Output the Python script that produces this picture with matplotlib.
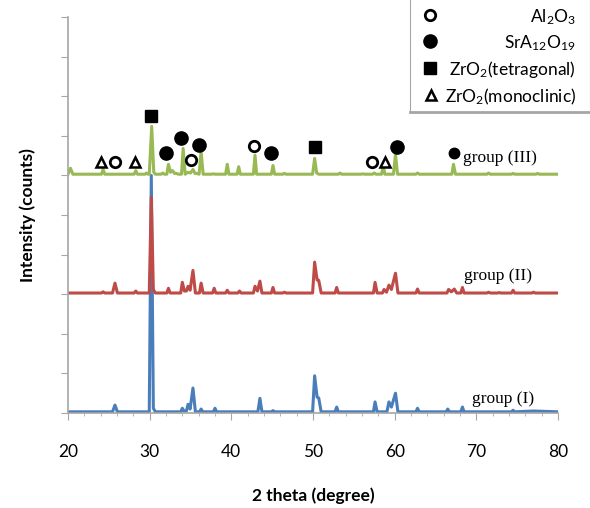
#XRD patterns of the three groups, stacked, with phase markers

import matplotlib.pyplot as plt
from matplotlib.ticker import MultipleLocator

# 2theta (deg) and relative intensity, peak feet and tops
g1_x = [20.0, 25.45, 25.75, 26.05, 29.95, 30.2, 30.45, 30.7, 33.8, 34.0, 34.2, 34.5,
        34.7, 34.95, 35.3, 35.6, 36.1, 36.3, 36.5, 37.8, 38.0, 38.2, 43.25, 43.5,
        43.75, 44.9, 45.1, 45.3, 49.95, 50.2, 50.5, 50.7, 51.0, 52.7, 52.9, 53.1,
        57.4, 57.6, 57.85, 59.05, 59.3, 59.6, 60.1, 60.4, 62.6, 62.8, 63.0, 66.3,
        66.5, 66.7, 68.1, 68.3, 68.5, 74.3, 74.5, 74.7, 77.0, 80.0]
g1_y = [0.03, 0.03, 0.20, 0.03, 0.03, 6.00, 0.12, 0.03, 0.03, 0.12, 0.05, 0.05,
        0.22, 0.10, 0.63, 0.03, 0.03, 0.10, 0.03, 0.03, 0.12, 0.03, 0.03, 0.37,
        0.03, 0.03, 0.06, 0.03, 0.03, 0.94, 0.40, 0.38, 0.03, 0.03, 0.15, 0.03,
        0.03, 0.28, 0.03, 0.03, 0.28, 0.15, 0.50, 0.03, 0.03, 0.12, 0.03, 0.03,
        0.10, 0.03, 0.03, 0.15, 0.03, 0.03, 0.07, 0.03, 0.05, 0.03]

g2_x = [20.0, 24.1, 24.3, 24.5, 25.45, 25.75, 26.05, 28.1, 28.3, 28.5, 29.95, 30.2,
        30.45, 30.7, 32.1, 32.3, 32.5, 33.8, 34.0, 34.25, 34.5, 34.7, 34.95, 35.3,
        35.6, 36.1, 36.3, 36.55, 37.7, 37.9, 38.1, 39.3, 39.5, 39.7, 40.8, 41.0,
        41.2, 42.7, 42.9, 43.2, 43.5, 43.75, 44.9, 45.1, 45.3, 46.3, 46.5, 46.7,
        49.95, 50.2, 50.5, 50.7, 51.0, 52.7, 52.9, 53.1, 57.4, 57.6, 57.85, 58.5,
        58.7, 59.0, 59.3, 59.6, 60.1, 60.4, 62.6, 62.8, 63.0, 66.4, 66.6, 66.95,
        67.3, 67.6, 68.1, 68.3, 68.5, 71.3, 71.5, 71.7, 72.6, 72.8, 73.0, 74.3,
        74.5, 74.7, 76.8, 77.0, 77.2, 80.0]
g2_y = [0.03, 0.03, 0.06, 0.03, 0.03, 0.28, 0.03, 0.03, 0.08, 0.03, 0.03, 2.45,
        0.12, 0.03, 0.03, 0.15, 0.03, 0.03, 0.30, 0.08, 0.08, 0.20, 0.10, 0.60,
        0.03, 0.03, 0.28, 0.03, 0.03, 0.15, 0.03, 0.03, 0.10, 0.03, 0.03, 0.08,
        0.03, 0.03, 0.20, 0.08, 0.33, 0.03, 0.03, 0.17, 0.03, 0.03, 0.05, 0.03,
        0.03, 0.81, 0.36, 0.35, 0.03, 0.03, 0.17, 0.03, 0.03, 0.30, 0.03, 0.03,
        0.12, 0.05, 0.23, 0.12, 0.53, 0.03, 0.03, 0.13, 0.03, 0.03, 0.12, 0.06,
        0.13, 0.03, 0.03, 0.17, 0.03, 0.03, 0.05, 0.03, 0.03, 0.04, 0.03, 0.03,
        0.10, 0.03, 0.03, 0.05, 0.03, 0.03]

g3_x = [20.0, 20.3, 20.6, 24.1, 24.3, 24.5, 28.1, 28.3, 28.5, 29.45, 29.6, 29.8,
        29.95, 30.25, 30.5, 30.7, 31.4, 31.6, 31.8, 32.1, 32.3, 32.55, 32.8, 33.05,
        33.3, 33.5, 33.9, 34.1, 34.35, 34.7, 35.0, 35.3, 35.55, 35.8, 36.05, 36.3,
        36.55, 37.6, 37.8, 38.0, 39.3, 39.5, 39.7, 40.7, 40.9, 41.1, 42.7, 42.9,
        43.1, 44.9, 45.1, 45.3, 46.3, 46.5, 46.7, 49.95, 50.2, 50.45, 50.7, 53.1,
        53.3, 53.5, 55.9, 56.1, 56.3, 57.3, 57.5, 57.7, 58.4, 58.6, 58.8, 59.85,
        60.1, 60.35, 62.6, 62.8, 63.0, 67.0, 67.2, 67.45, 71.3, 71.5, 71.7, 74.3,
        74.5, 74.7, 77.3, 77.5, 77.7, 80.0]
g3_y = [0.03, 0.18, 0.03, 0.03, 0.15, 0.03, 0.03, 0.12, 0.03, 0.03, 0.06, 0.03,
        0.03, 1.24, 0.08, 0.03, 0.03, 0.06, 0.03, 0.03, 0.28, 0.08, 0.12, 0.05,
        0.05, 0.03, 0.03, 0.68, 0.03, 0.08, 0.06, 0.15, 0.05, 0.05, 0.03, 0.60,
        0.03, 0.03, 0.04, 0.03, 0.03, 0.28, 0.03, 0.03, 0.22, 0.03, 0.03, 0.51,
        0.03, 0.03, 0.25, 0.03, 0.03, 0.05, 0.03, 0.03, 0.43, 0.06, 0.03, 0.03,
        0.06, 0.03, 0.03, 0.04, 0.03, 0.03, 0.06, 0.03, 0.03, 0.25, 0.03, 0.03,
        0.53, 0.03, 0.03, 0.06, 0.03, 0.03, 0.28, 0.03, 0.03, 0.06, 0.03, 0.03,
        0.05, 0.03, 0.03, 0.05, 0.03, 0.03]

offsets = [0, 3, 6]
labels = ["group (I)", "group (II)", "group (III)"]
colors = ["#4a7ebb", "#be4b48", "#98b954"]

# phase markers above group (III)
al2o3_x = [25.75, 35.05, 42.77, 57.2]
al2o3_y = [6.33, 6.38, 6.73, 6.33]
sral_x = [32.0, 33.83, 36.03, 44.85, 60.27]
sral_y = [6.56, 6.94, 6.78, 6.56, 6.71]
sral_small_x = [67.25]
sral_small_y = [6.56]
zr_t_x = [30.16, 50.23]
zr_t_y = [7.49, 6.71]
zr_m_x = [24.04, 28.2, 58.8]
zr_m_y = [6.35, 6.35, 6.33]

legend_names = [r"Al$\mathregular{_2}$O$\mathregular{_3}$",
                r"SrA$\mathregular{_{12}}$O$\mathregular{_{19}}$",
                r"ZrO$\mathregular{_2}$(tetragonal)",
                r"ZrO$\mathregular{_2}$(monoclinic)"]

plt.rcParams['font.family'] = ['Lato', 'DejaVu Sans']
plt.rcParams['mathtext.fontset'] = 'custom'
plt.rcParams['mathtext.rm'] = 'Lato'

fig = plt.figure(figsize=(5.9, 5.08), dpi=100)
ax = fig.add_axes([68 / 590, 1 - 413 / 508, 490 / 590, 396 / 508])

for xs, ys, off, c in zip([g1_x, g2_x, g3_x], [g1_y, g2_y, g3_y], offsets, colors):
    ax.plot(xs, [v + off for v in ys], color=c, lw=2.2, solid_joinstyle='round')

ax.text(73.3, 0.35, labels[0], family='Liberation Serif', fontsize=12.5, va='center', ha='center')
ax.text(72.7, 3.45, labels[1], family='Liberation Serif', fontsize=12.5, va='center', ha='center')
ax.text(72.9, 6.45, labels[2], family='Liberation Serif', fontsize=12.5, va='center', ha='center')

mk = dict(ls='none', color='black')
ax.plot(al2o3_x, al2o3_y, marker='o', ms=7.5, mfc='white', mec='black', mew=2, **mk)
ax.plot(sral_x, sral_y, marker='o', ms=9.5, **mk)
ax.plot(sral_small_x, sral_small_y, marker='o', ms=7.5, **mk)
ax.plot(zr_t_x, zr_t_y, marker='s', ms=8.5, **mk)
ax.plot(zr_m_x, zr_m_y, marker='^', ms=7, mfc='white', mec='black', mew=1.8, **mk)

ax.set_xlim(20, 80)
ax.set_ylim(0, 10)
ax.xaxis.set_major_locator(MultipleLocator(10))
ax.xaxis.set_minor_locator(MultipleLocator(2))
ax.yaxis.set_major_locator(MultipleLocator(1))
ax.set_yticklabels([])
ax.tick_params(axis='both', which='major', length=5, color='#a6a6a6', labelsize=12.5, pad=17)
ax.tick_params(axis='x', which='minor', length=2.5, color='#a6a6a6')
for s in ['top', 'right']:
    ax.spines[s].set_visible(False)
for s in ['left', 'bottom']:
    ax.spines[s].set_color('#a6a6a6')
    ax.spines[s].set_linewidth(1.2)

ax.set_xlabel("2 theta (degree)", fontsize=12.5, fontweight='bold', labelpad=20)
ax.set_ylabel("Intensity (counts)", fontsize=12.5, fontweight='bold', labelpad=1)

# legend box, drawn by hand so the text is right aligned
lg = fig.add_axes([410 / 590, 1 - 112 / 508, 180 / 590, 122 / 508])
lg.set_xlim(410, 590)
lg.set_ylim(112, -10)
lg.set_xticks([])
lg.set_yticks([])
for s in lg.spines.values():
    s.set_color('#a6a6a6')
lg.spines['bottom'].set_linewidth(2)
row_y = [15, 41, 68, 95]
lg.plot([430], [row_y[0]], marker='o', ms=7.5, mfc='white', mec='black', mew=2, **mk)
lg.plot([430], [row_y[1]], marker='o', ms=9.5, **mk)
lg.plot([430], [row_y[2]], marker='s', ms=8.5, **mk)
lg.plot([431], [row_y[3]], marker='^', ms=7, mfc='white', mec='black', mew=1.8, **mk)
for yy, name in zip(row_y, legend_names):
    lg.text(576, yy + 2, name, fontsize=12.5, ha='right', va='center')

fig.savefig("out.png", dpi=100)
